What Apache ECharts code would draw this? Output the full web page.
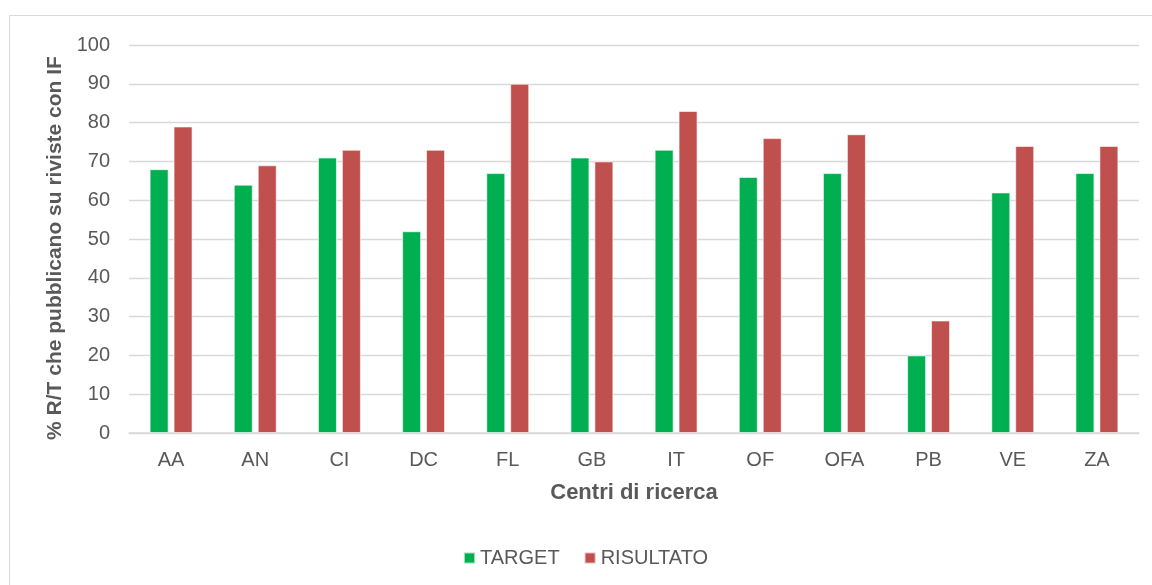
<!DOCTYPE html>
<html lang="it">
<head>
    <meta charset="UTF-8">
    <title>Centri di ricerca</title>
    <style type="text/css">
        html, body {
            margin: 0;
            padding: 0;
            background: #ffffff;
        }
        #box {
            width: 1152px;
            height: 585px;
        }
    </style>
</head>
<body>
<div id="box"></div>
</body>
<script type="text/javascript" src="https://cdn.jsdelivr.net/npm/echarts@6/dist/echarts.min.js"></script>
<script type="text/javascript">
    // dati
    const categories = ['AA', 'AN', 'CI', 'DC', 'FL', 'GB', 'IT', 'OF', 'OFA', 'PB', 'VE', 'ZA'];
    const target = [68, 64, 71, 52, 67, 71, 73, 66, 67, 20, 62, 67];
    const risultato = [79, 69, 73, 73, 90, 70, 83, 76, 77, 29, 74, 74];
    const seriesNames = ['TARGET', 'RISULTATO'];

    const textColor = '#595959';
    const font = 'Arial, "Liberation Sans", sans-serif';

    let myChart = echarts.init(document.getElementById('box'));
    let option = {
        animation: false,
        textStyle: {fontFamily: font},
        graphic: [{
            type: 'rect',
            shape: {x: 9.5, y: 15.5, width: 1300, height: 700},
            style: {fill: 'none', stroke: '#d9d9d9', lineWidth: 1},
            silent: true,
            z: -1
        }],
        grid: {
            left: 129,
            right: 13,
            top: 45,
            bottom: 152
        },
        legend: {
            data: seriesNames,
            left: 458,
            top: 543,
            itemWidth: 11,
            itemHeight: 11,
            itemGap: 24,
            icon: 'rect',
            textStyle: {color: textColor, fontSize: 20, fontFamily: font}
        },
        xAxis: {
            type: 'category',
            data: categories,
            name: 'Centri di ricerca',
            nameLocation: 'middle',
            nameGap: 49,
            nameTextStyle: {color: textColor, fontSize: 22, fontWeight: 'bold', fontFamily: font},
            axisLine: {lineStyle: {color: '#d9d9d9', width: 1.5}},
            axisTick: {show: false},
            axisLabel: {color: textColor, fontSize: 20, margin: 17, fontFamily: font}
        },
        yAxis: {
            type: 'value',
            min: 0,
            max: 100,
            interval: 10,
            name: '% R/T che pubblicano su riviste con IF',
            nameLocation: 'middle',
            nameGap: 62,
            nameTextStyle: {
                color: textColor, fontSize: 21, fontWeight: 'bold', fontFamily: font,
                padding: [0, 18, 0, 0]
            },
            axisLine: {show: false},
            axisTick: {show: false},
            axisLabel: {color: textColor, fontSize: 20, margin: 19, fontFamily: font},
            splitLine: {lineStyle: {color: '#d9d9d9', width: 1.3}}
        },
        series: [
            {
                name: seriesNames[0],
                type: 'bar',
                data: target,
                barWidth: 19,
                barGap: '26%',
                itemStyle: {color: '#00B050', borderColor: 'rgba(255,255,255,0.6)', borderWidth: 1}
            },
            {
                name: seriesNames[1],
                type: 'bar',
                data: risultato,
                barWidth: 19,
                itemStyle: {color: '#C0504D', borderColor: 'rgba(255,255,255,0.6)', borderWidth: 1}
            }
        ]
    };
    myChart.setOption(option);
</script>
</html>
